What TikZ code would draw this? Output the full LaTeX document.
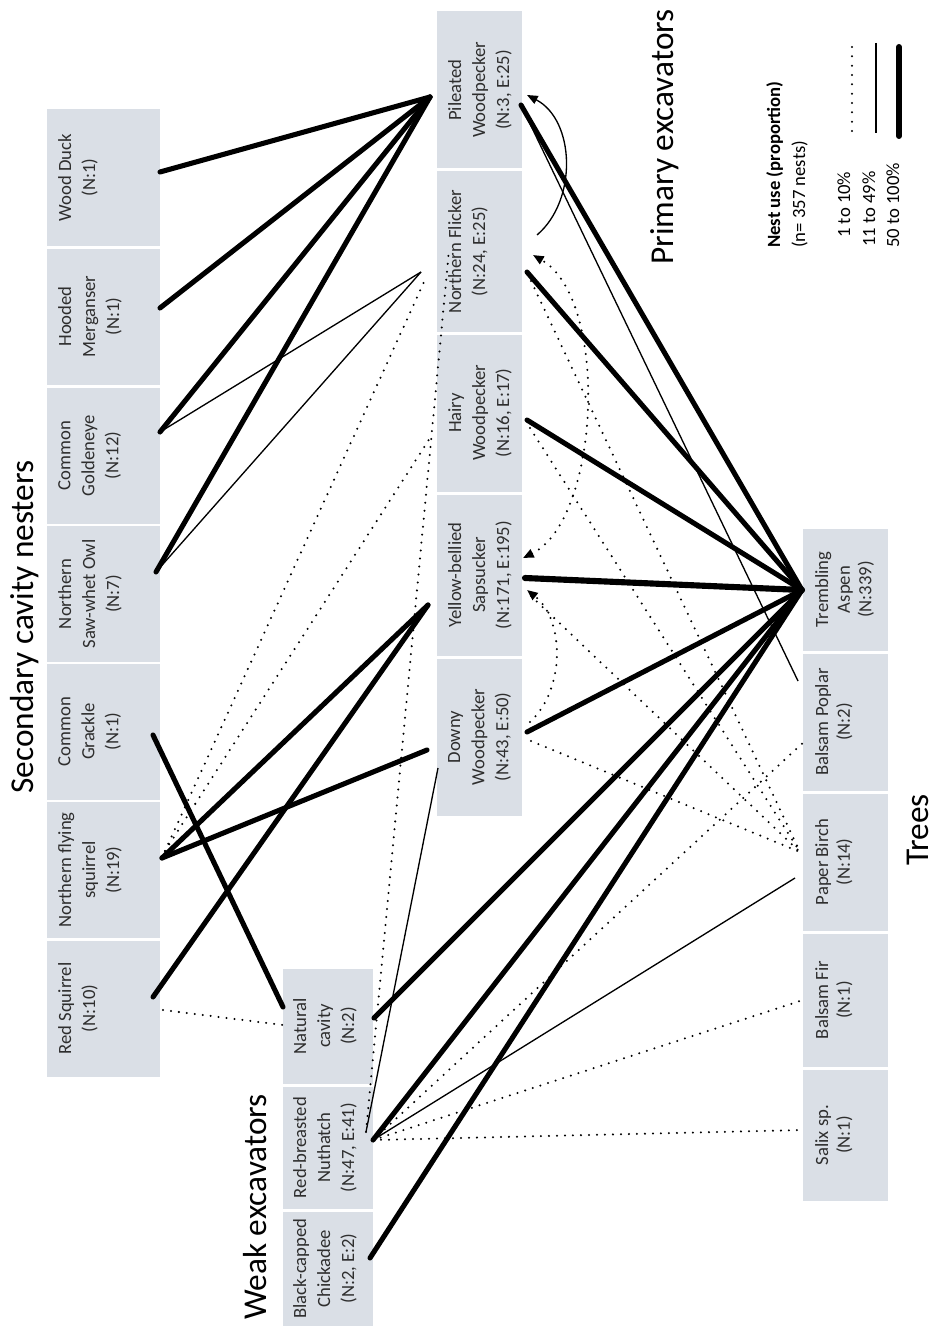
\documentclass[tikz,border=0pt]{standalone}
\usepackage{fontspec}
\setmainfont{Carlito}
\usetikzlibrary{arrows.meta}
\definecolor{boxfill}{RGB}{218,223,230}
\begin{document}
\begin{tikzpicture}[x=0.75pt,y=-0.75pt,
  box/.style={fill=boxfill, draw=none, inner sep=0pt, outer sep=0pt},
  lbl/.style={rotate=90, anchor=north, align=center, inner sep=0pt, text=black!82, font=\fontsize{14}{18}\selectfont},
  tlbl/.style={lbl, font=\fontsize{14}{16.2}\selectfont},
  title/.style={rotate=90, anchor=base, inner sep=0pt, font=\fontsize{25}{30}\selectfont},
  legtxt/.style={rotate=90, anchor=base west, inner sep=0pt, font=\fontsize{14}{16}\selectfont},
  heavy/.style={line width=3.8pt, line cap=round},
  light/.style={line width=1pt},
  dots/.style={line width=1.7pt, line cap=round, dash pattern=on 0pt off 6pt},
  tipend/.style={-{Triangle[length=8pt,width=6.5pt]}},
  tipboth/.style={{Triangle[length=8pt,width=6.5pt]}-{Triangle[length=8pt,width=6.5pt]}},
]
\useasboundingbox (0,0) rectangle (939,1334);

% ---------- Secondary cavity nesters ----------
\node[box, minimum width=84.75pt, minimum height=102pt] (wd) at (103.5,177.5) {};
\node[box, minimum width=84.75pt, minimum height=102pt] (hm) at (103.5,316.5) {};
\node[box, minimum width=84.75pt, minimum height=102pt] (cg) at (103.5,455.5) {};
\node[box, minimum width=84.75pt, minimum height=102pt] (ow) at (103.5,594) {};
\node[box, minimum width=84.75pt, minimum height=102pt] (gr) at (103.5,731.5) {};
\node[box, minimum width=84.75pt, minimum height=102pt] (fs) at (103.5,870) {};
\node[box, minimum width=84.75pt, minimum height=102pt] (rs) at (103.5,1008.5) {};
\node[lbl] (wdT) at (58,177.5) {Wood Duck\\(N:1)};
\node[lbl] (hmT) at (58,316.5) {Hooded\\Merganser\\(N:1)};
\node[lbl] (cgT) at (58,455.5) {Common\\Goldeneye\\(N:12)};
\node[lbl] (owT) at (58,594) {Northern\\Saw-whet Owl\\(N:7)};
\node[lbl] (grT) at (58,731.5) {Common\\Grackle\\(N:1)};
\node[lbl] (fsT) at (58,870) {Northern flying\\squirrel\\(N:19)};
\node[lbl] (rsT) at (58,1008.5) {Red Squirrel\\(N:10)};
\node[title] (secT) at (33,627) {Secondary cavity nesters};

% ---------- Weak excavators ----------
\node[box, minimum width=67.5pt, minimum height=86.25pt] (nc) at (328,1026) {};
\node[box, minimum width=67.5pt, minimum height=91.5pt] (nh) at (328,1147.5) {};
\node[box, minimum width=67.5pt, minimum height=85.5pt] (bc) at (328,1268.5) {};
\node[lbl] (ncT) at (293,1026) {Natural\\cavity\\(N:2)};
\node[lbl] (nhT) at (293,1147.5) {Red-breasted\\Nuthatch\\(N:47, E:41)};
\node[lbl] (bcT) at (293,1268.5) {Black-capped\\Chickadee\\(N:2, E:2)};
\node[title] (weakT) at (266,1207) {Weak excavators};

% ---------- Primary excavators ----------
\node[box, minimum width=63.75pt, minimum height=117.75pt] (pw) at (479.5,90) {};
\node[box, minimum width=63.75pt, minimum height=120pt] (nf) at (479.5,251.5) {};
\node[box, minimum width=63.75pt, minimum height=117.75pt] (hw) at (479.5,413) {};
\node[box, minimum width=63.75pt, minimum height=120.75pt] (ys) at (479.5,575) {};
\node[box, minimum width=63.75pt, minimum height=117.75pt] (dw) at (479.5,737) {};
\node[lbl] (pwT) at (448,90) {Pileated\\Woodpecker\\(N:3, E:25)};
\node[lbl] (nfT) at (448,251.5) {Northern Flicker\\(N:24, E:25)};
\node[lbl] (hwT) at (448,413) {Hairy\\Woodpecker\\(N:16, E:17)};
\node[lbl] (ysT) at (448,575) {Yellow-bellied\\Sapsucker\\(N:171, E:195)};
\node[lbl] (dwT) at (448,737) {Downy\\Woodpecker\\(N:43, E:50)};
\node[title] (primT) at (673,137) {Primary excavators};

% ---------- Trees ----------
\node[box, minimum width=63.75pt, minimum height=91.5pt] (ta) at (845.5,589.5) {};
\node[box, minimum width=63.75pt, minimum height=102.75pt] (bp) at (845.5,722) {};
\node[box, minimum width=63.75pt, minimum height=102.75pt] (pb) at (845.5,862) {};
\node[box, minimum width=63.75pt, minimum height=99.75pt] (bf) at (845.5,1000) {};
\node[box, minimum width=63.75pt, minimum height=98.25pt] (sx) at (845.5,1135) {};
\node[tlbl] (taT) at (815,589.5) {Trembling\\Aspen\\(N:339)};
\node[tlbl] (bpT) at (815,722) {Balsam Poplar\\(N:2)};
\node[tlbl] (pbT) at (815,862) {Paper Birch\\(N:14)};
\node[tlbl] (bfT) at (815,1000) {Balsam Fir\\(N:1)};
\node[tlbl] (sxT) at (815,1135) {Salix sp.\\(N:1)};
\node[title] (treeT) at (928,830) {Trees};

% ---------- Legend ----------
\node[legtxt, font=\fontsize{14}{16}\selectfont\bfseries] (legH) at (780,248) {Nest use (proportion)};
\node[legtxt] (legN) at (805,248) {(n= 357 nests)};
\node[legtxt] (leg1) at (850,238) {1 to 10\%};
\node[legtxt] (leg2) at (875,247) {11 to 49\%};
\node[legtxt] (leg3) at (899,248) {50 to 100\%};
\coordinate (lg1a) at (852,47);  \coordinate (lg1b) at (852,135);
\coordinate (lg2a) at (876,43);  \coordinate (lg2b) at (876,133);
\coordinate (lg3a) at (899,47);  \coordinate (lg3b) at (899,136);
\draw[dots, dash pattern=on 0pt off 7pt] (lg1a) -- (lg1b);
\draw[light] (lg2a) -- (lg2b);
\draw[line width=4.5pt, line cap=round] (lg3a) -- (lg3b);

% ---------- Connector end points ----------
\coordinate (wdR) at (160,172);
\coordinate (hmR) at (160,308);
\coordinate (cgR) at (160,432);
\coordinate (owR) at (156,572);
\coordinate (grR) at (153,735);
\coordinate (fsR) at (162,858);
\coordinate (fsRd) at (165,851);
\coordinate (rsR) at (153,997);
\coordinate (rsRd) at (163,1010);
\coordinate (ncL) at (283,1007);
\coordinate (ncLd) at (283,1025);
\coordinate (ncR) at (374,1018);
\coordinate (nhR) at (373,1140);
\coordinate (nhRu) at (366,1132);
\coordinate (bcR) at (370,1258);
\coordinate (pwL) at (430,97);
\coordinate (nfL) at (421,272);
\coordinate (nfLd) at (424,282);
\coordinate (nfIn) at (449,250);
\coordinate (hwL) at (430,438);
\coordinate (ysL) at (428,605);
\coordinate (dwL) at (427,750);
\coordinate (dwL2) at (438,768);
\coordinate (pwR) at (521,105);
\coordinate (pwArr) at (527,95);
\coordinate (nfArc) at (537,235);
\coordinate (nfR) at (527,272);
\coordinate (nfRd) at (531,281);
\coordinate (nfArr) at (533,255);
\coordinate (hwR) at (527,420);
\coordinate (hwRd) at (530,428);
\coordinate (ysR) at (525,578);
\coordinate (ysArrT) at (523,558);
\coordinate (ysArrB) at (527,590);
\coordinate (ysRd) at (531,596);
\coordinate (dwR) at (527,732);
\coordinate (dwRd) at (531,741);
\coordinate (dwArc) at (530,722);
\coordinate (taL) at (802,590);
\coordinate (bpL) at (806,740);
\coordinate (bpLt) at (798,681);
\coordinate (pbL) at (800,852);
\coordinate (pbLt) at (795,878);
\coordinate (bfL) at (803,1000);
\coordinate (sxL) at (803,1130);

% ---------- Heavy connectors (50 to 100%) ----------
\draw[heavy] (wdR) -- (pwL);
\draw[heavy] (hmR) -- (pwL);
\draw[heavy] (cgR) -- (pwL);
\draw[heavy] (owR) -- (pwL);
\draw[heavy] (grR) -- (ncL);
\draw[heavy] (fsR) -- (ysL);
\draw[heavy] (fsR) -- (dwL);
\draw[heavy] (rsR) -- (ysL);
\draw[heavy] (ncR) -- (taL);
\draw[heavy] (nhR) -- (taL);
\draw[heavy] (bcR) -- (taL);
\draw[heavy] (pwR) -- (taL);
\draw[heavy] (nfR) -- (taL);
\draw[heavy] (hwR) -- (taL);
\draw[heavy, line width=4.6pt] (ysR) -- (taL);
\draw[heavy] (dwR) -- (taL);

% ---------- Light connectors (11 to 49%) ----------
\draw[light] (cgR) -- (nfL);
\draw[light] (owR) -- (nfL);
\draw[light] (pwR) -- (bpLt);
\draw[light] (nhR) -- (pbLt);
\draw[light] (nhRu) -- (dwL2);

% ---------- Dotted connectors (1 to 10%) ----------
\draw[dots] (rsRd) -- (ncLd);
\draw[dots] (fsRd) -- (nfLd);
\draw[dots] (fsRd) -- (hwL);
\draw[dots] (nhRu) -- (nfIn);
\draw[dots] (nhR) -- (bpL);
\draw[dots] (nhR) -- (bfL);
\draw[dots] (nhR) -- (sxL);
\draw[dots] (nfRd) -- (pbL);
\draw[dots] (hwRd) -- (pbL);
\draw[dots] (ysRd) -- (pbL);
\draw[dots] (dwRd) -- (pbL);

% ---------- Curved arrows between excavators ----------
\draw[light, tipend] (nfArc) .. controls (578,200) and (575,120) .. (pwArr);
\draw[dots, tipboth] (ysArrT) .. controls (600,520) and (610,300) .. (nfArr);
\draw[dots, tipend] (dwArc) .. controls (565,690) and (565,620) .. (ysArrB);
\end{tikzpicture}
\end{document}
